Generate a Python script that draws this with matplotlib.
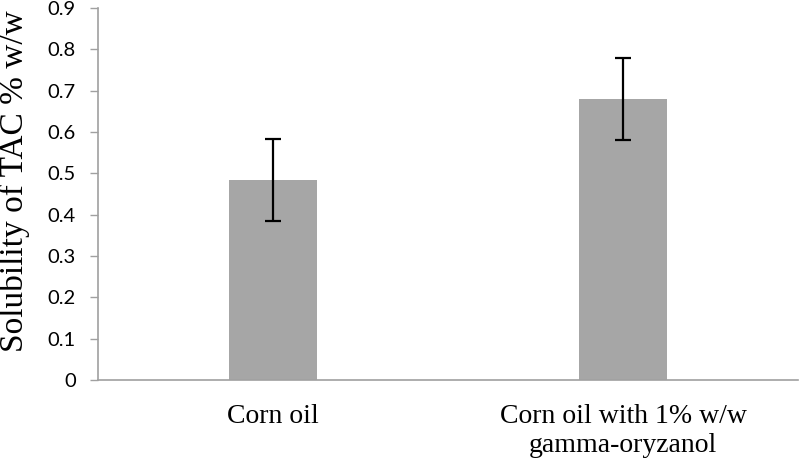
import numpy as np
import matplotlib.pyplot as plt

# donnees
categories = ["Corn oil", "Corn oil with 1% w/w\ngamma-oryzanol"]
solubilite = [0.483, 0.679]
erreur = [0.099, 0.099]
yticks = [0, 0.1, 0.2, 0.3, 0.4, 0.5, 0.6, 0.7, 0.8, 0.9]
yticklabels = ["0", "0.1", "0.2", "0.3", "0.4", "0.5", "0.6", "0.7", "0.8", "0.9"]

fig = plt.figure(figsize=(7.99, 4.63), dpi=100)
ax = fig.add_axes([98/799, 83/463, 700/799, 372/463])

x = np.arange(len(categories))
ax.bar(x, solubilite, width=0.25, color="#a6a6a6",
       yerr=erreur, error_kw=dict(ecolor="black", elinewidth=1.6, capsize=6, capthick=1.6))

ax.set_xlim(-0.5, 1.5)
ax.set_ylim(0, 0.9)
ax.set_yticks(yticks)
ax.set_yticklabels(yticklabels, fontfamily="Lato", fontsize=14.5)
ax.set_xticks(x)
ax.set_xticklabels(categories, fontfamily="Liberation Serif", fontsize=20, linespacing=1.25)
ax.tick_params(axis="x", length=0, pad=17)
ax.tick_params(axis="y", length=6, width=1, color="#a0a0a0", pad=10)

for s in ["top", "right"]:
    ax.spines[s].set_visible(False)
for s in ["left", "bottom"]:
    ax.spines[s].set_color("#a0a0a0")
    ax.spines[s].set_linewidth(1.2)

ax.set_ylabel("Solubility of TAC % w/w", fontfamily="Liberation Serif", fontsize=24)
ax.yaxis.set_label_coords(-0.097, 0.535)

fig.savefig("out.png", dpi=100)
